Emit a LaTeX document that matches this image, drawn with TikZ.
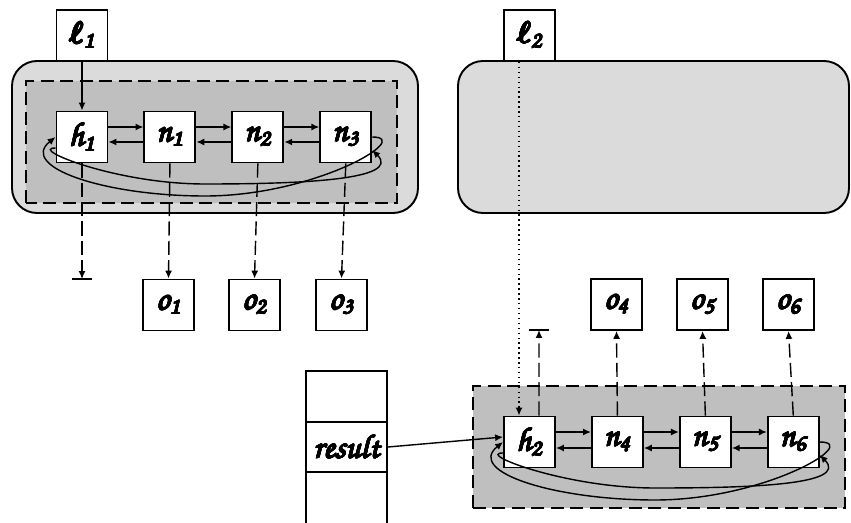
\documentclass[tikz,border=0pt]{standalone}
\usepackage[T1,TU]{fontenc}
\usepackage[copies]{contour}
\usepackage{tikz}
\usetikzlibrary{positioning,calc,arrows.meta}

\newcommand{\chan}{\fontencoding{T1}\fontfamily{pzc}\fontsize{19}{23}\selectfont}
\contourlength{0.35pt}
\newcommand{\lab}[1]{\contour{black}{#1}}
\newcommand{\ellb}{{\boldmath$\ell$}}

\begin{document}
\begin{tikzpicture}[
  >=Latex,
  cell/.style={draw, line width=1.1pt, fill=white, minimum size=1.02cm, inner sep=0pt, font=\chan},
  slot/.style={draw, line width=1.1pt, fill=white, minimum width=1.62cm, minimum height=1.01cm,
               inner sep=0pt, font=\chan},
  grp/.style={draw, line width=1.1pt, rounded corners=0.5cm, fill=black!14},
  lst/.style={draw, line width=1.1pt, fill=black!25, dash pattern=on 7.5pt off 3.6pt},
  fl/.style={-{Latex[length=4.5pt,width=4pt]}, line width=0.8pt},
  dl/.style={fl, dash pattern=on 8pt off 3pt},
  pl/.style={fl, dotted},
  gnd/.style={line width=1pt},
]
  \useasboundingbox (0,0) rectangle (17.02,10.44);

  %=================== backgrounds ===================
  \draw[grp] (0.24,6.18) rectangle (8.36,9.22);
  \draw[lst] (0.52,6.38) rectangle (7.94,8.82);
  \draw[grp] (9.16,6.18) rectangle (16.98,9.22);
  \draw[lst] (9.46,0.28) rectangle (16.90,2.72);

  %=================== first list ===================
  \node[cell] (l1) at (1.64,9.73) {\lab{\ellb\textsubscript{1}}};
  \node[cell] (h1) at (1.64,7.70) {\lab{h\textsubscript{1}}};
  \node[cell, right=0.7cm of h1] (n1) {\lab{n\textsubscript{1}}};
  \node[cell, right=0.7cm of n1] (n2) {\lab{n\textsubscript{2}}};
  \node[cell, right=0.7cm of n2] (n3) {\lab{n\textsubscript{3}}};
  \draw[fl] (l1.south) -- (h1.north);
  \draw[fl] ([yshift=0.2cm]h1.east) -- ([yshift=0.2cm]n1.west);
  \draw[fl] ([yshift=0.2cm]n1.east) -- ([yshift=0.2cm]n2.west);
  \draw[fl] ([yshift=0.2cm]n2.east) -- ([yshift=0.2cm]n3.west);
  \draw[fl] ([yshift=-0.1cm]n1.west) -- ([yshift=-0.1cm]h1.east);
  \draw[fl] ([yshift=-0.1cm]n2.west) -- ([yshift=-0.1cm]n1.east);
  \draw[fl] ([yshift=-0.1cm]n3.west) -- ([yshift=-0.1cm]n2.east);
  \coordinate (lo1) at (4.1,6.52);
  \coordinate (li1) at (4.1,6.76);
  \draw[fl] (n3.east) .. controls +(0.85,0) and +(2.2,0) .. (lo1)
            .. controls +(-2.0,0) and +(-0.75,-0.6) .. (h1.west);
  \draw[fl] ([yshift=-0.22cm]h1.west) .. controls +(-0.55,0) and +(-1.8,0) .. (li1)
            .. controls +(1.9,0) and +(0.6,-0.6) .. ([yshift=-0.26cm]n3.east);

  % outputs
  \node[cell] (o1) at (3.37,4.34) {\lab{o\textsubscript{1}}};
  \node[cell] (o2) at (5.09,4.34) {\lab{o\textsubscript{2}}};
  \node[cell] (o3) at (6.83,4.34) {\lab{o\textsubscript{3}}};
  \coordinate (g1) at (1.64,4.86);
  \draw[dl] (h1.south) -- (g1);
  \draw[gnd] ([xshift=-0.2cm]g1) -- ([xshift=0.2cm]g1);
  \draw[dl] (n1.south) -- (o1.north);
  \draw[dl] (n2.south) -- (o2.north);
  \draw[dl] (n3.south) -- (o3.north);

  %=================== second list ===================
  \node[cell] (l2) at (10.59,9.73) {\lab{\ellb\textsubscript{2}}};
  \node[cell] (h2) at (10.59,1.60) {\lab{h\textsubscript{2}}};
  \node[cell, right=0.7cm of h2] (n4) {\lab{n\textsubscript{4}}};
  \node[cell, right=0.7cm of n4] (n5) {\lab{n\textsubscript{5}}};
  \node[cell, right=0.7cm of n5] (n6) {\lab{n\textsubscript{6}}};
  \draw[pl] ([xshift=-0.21cm]l2.south) -- ([xshift=-0.21cm]h2.north);
  \draw[fl] ([yshift=0.2cm]h2.east) -- ([yshift=0.2cm]n4.west);
  \draw[fl] ([yshift=0.2cm]n4.east) -- ([yshift=0.2cm]n5.west);
  \draw[fl] ([yshift=0.2cm]n5.east) -- ([yshift=0.2cm]n6.west);
  \draw[fl] ([yshift=-0.12cm]n4.west) -- ([yshift=-0.12cm]h2.east);
  \draw[fl] ([yshift=-0.12cm]n5.west) -- ([yshift=-0.12cm]n4.east);
  \draw[fl] ([yshift=-0.12cm]n6.west) -- ([yshift=-0.12cm]n5.east);
  \coordinate (lo2) at (13.1,0.44);
  \coordinate (li2) at (13.1,0.68);
  \draw[fl] (n6.east) .. controls +(0.85,0) and +(2.2,0) .. (lo2)
            .. controls +(-2.0,0) and +(-0.75,-0.6) .. (h2.west);
  \draw[fl] ([yshift=-0.22cm]h2.west) .. controls +(-0.55,0) and +(-1.8,0) .. (li2)
            .. controls +(1.9,0) and +(0.6,-0.6) .. ([yshift=-0.26cm]n6.east);

  % outputs
  \node[cell] (o4) at (12.33,4.35) {\lab{o\textsubscript{4}}};
  \node[cell] (o5) at (14.05,4.35) {\lab{o\textsubscript{5}}};
  \node[cell] (o6) at (15.77,4.35) {\lab{o\textsubscript{6}}};
  \coordinate (g2) at (10.78,3.84);
  \draw[dl] ([xshift=0.19cm]h2.north) -- (g2);
  \draw[gnd] ([xshift=-0.2cm]g2) -- ([xshift=0.2cm]g2);
  \draw[dl] (n4.north) -- (o4.south);
  \draw[dl] (n5.north) -- (o5.south);
  \draw[dl] (n6.north) -- (o6.south);

  %=================== stack frame ===================
  \node[slot] (top) at (6.93,2.51) {};
  \node[slot] (res) at (6.93,1.50) {\lab{result}};
  \node[slot, minimum height=1.2cm] (bot) at (6.93,0.395) {};
  \draw[fl] (res.east) -- ([yshift=0.1cm]h2.west);
\end{tikzpicture}
\end{document}
